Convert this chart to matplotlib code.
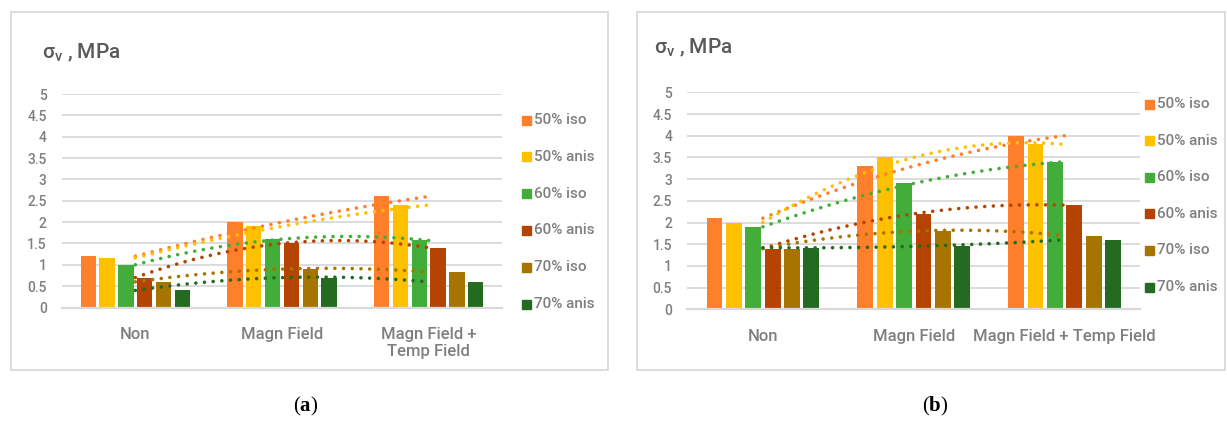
import matplotlib.pyplot as plt
import numpy as np
from matplotlib.patches import Rectangle

plt.rcParams['font.family'] = ['Roboto', 'DejaVu Sans']
plt.rcParams['font.weight'] = 'medium'
plt.rcParams['mathtext.fontset'] = 'custom'
plt.rcParams['mathtext.rm'] = 'Roboto:medium'
plt.rcParams['mathtext.bf'] = 'Liberation Serif:bold'

series = ["50% iso", "50% anis", "60% iso", "60% anis", "70% iso", "70% anis"]
colors = ['#FF7F2A', '#FFC000', '#43AD3A', '#B54403', '#A87400', '#246B22']

labels_a = ["Non", "Magn Field", "Magn Field +\nTemp Field"]
labels_b = ["Non", "Magn Field", "Magn Field + Temp Field"]

# sigma_v (MPa) per series, one list per condition
a_non = [1.2, 1.16, 1.0, 0.7, 0.6, 0.4]
a_magn = [2.0, 1.9, 1.6, 1.5, 0.9, 0.7]
a_magn_temp = [2.6, 2.4, 1.57, 1.4, 0.83, 0.6]

b_non = [2.1, 2.0, 1.9, 1.4, 1.4, 1.42]
b_magn = [3.3, 3.5, 2.9, 2.2, 1.8, 1.45]
b_magn_temp = [4.0, 3.8, 3.4, 2.4, 1.7, 1.6]

W, H = 1227, 421
fig = plt.figure(figsize=(W / 100, H / 100), dpi=100)

GRID = '#D9D9D9'
TXT = '#7F7F7F'


def fx(px):
    return px / W


def fy(py):
    return 1 - py / H


def panel(box, ax_px, groups, labels, legend_px, title_px, caption, caption_x):
    # light frame round the chart
    x0, y0, x1, y1 = box
    fig.add_artist(Rectangle((fx(x0), fy(y1)), fx(x1) - fx(x0), fy(y0) - fy(y1),
                             transform=fig.transFigure, fill=False,
                             edgecolor=GRID, lw=1.3))

    left, right, ybot, ytop = ax_px
    ax = fig.add_axes([fx(left), fy(ybot), fx(right) - fx(left), fy(ytop) - fy(ybot)])
    ax.set_xlim(-0.5, 2.5)
    ax.set_ylim(0, 5)

    data = np.array(groups)  # rows: conditions, cols: series
    x = np.arange(len(labels))
    pitch = 0.77 / len(series)
    bw = 0.105
    for i, (name, c) in enumerate(zip(series, colors)):
        ax.bar(x + (i - 2.5) * pitch, data[:, i], width=bw, color=c, zorder=2)

    # second order polynomial trendlines
    xs = np.linspace(0, 2, 200)
    for i, c in enumerate(colors):
        p = np.polyfit(x, data[:, i], 2)
        ax.plot(xs, np.polyval(p, xs), color=c, lw=2.6,
                linestyle=(0, (0.01, 2.4)), dash_capstyle='round', zorder=3)

    ax.set_yticks(np.arange(0, 5.01, 0.5))
    ax.set_yticklabels(['0', '0.5', '1', '1.5', '2', '2.5', '3', '3.5', '4', '4.5', '5'])
    ax.set_xticks(x)
    ax.set_xticklabels(labels, fontsize=12, color=TXT, linespacing=1.15)
    ax.tick_params(axis='x', length=0, pad=14)
    ax.tick_params(axis='y', length=0, pad=11, labelsize=10, labelcolor=TXT)
    ax.yaxis.grid(True, color=GRID, lw=1.3, zorder=0)
    ax.set_axisbelow(True)
    for s in ['top', 'right', 'left']:
        ax.spines[s].set_visible(False)
    ax.spines['bottom'].set_color(GRID)
    ax.spines['bottom'].set_linewidth(1.6)
    ax.spines['bottom'].set_zorder(4)

    # legend
    lx, ly, dy = legend_px
    for i, (name, c) in enumerate(zip(series, colors)):
        yy = ly + i * dy
        fig.add_artist(Rectangle((fx(lx), fy(yy + 4.5)), fx(9), 9 / H,
                                 transform=fig.transFigure, color=c))
        fig.text(fx(lx + 12), fy(yy), name, fontsize=11, color=TXT,
                 va='center', ha='left')

    tx, ty = title_px
    fig.text(fx(tx), fy(ty), r'$\mathrm{σ_v}$ , MPa', fontsize=15,
             color='#595959', va='center', ha='left')

    fig.text(fx(caption_x), fy(406), '(' + r'$\mathbf{' + caption + '}$' + ')',
             fontsize=15, family='Liberation Serif', weight='normal',
             va='center', ha='center')
    return ax


panel((11, 12, 608, 370), (62, 502, 307.5, 94),
      [a_non, a_magn, a_magn_temp], labels_a,
      (522, 120, 36.8), (42, 53), 'a', 306)

panel((637, 12, 1225, 370), (687.5, 1140, 309.3, 92.3),
      [b_non, b_magn, b_magn_temp], labels_b,
      (1145, 104, 36.6), (654, 48), 'b', 935)

fig.savefig('out.png', dpi=100)
